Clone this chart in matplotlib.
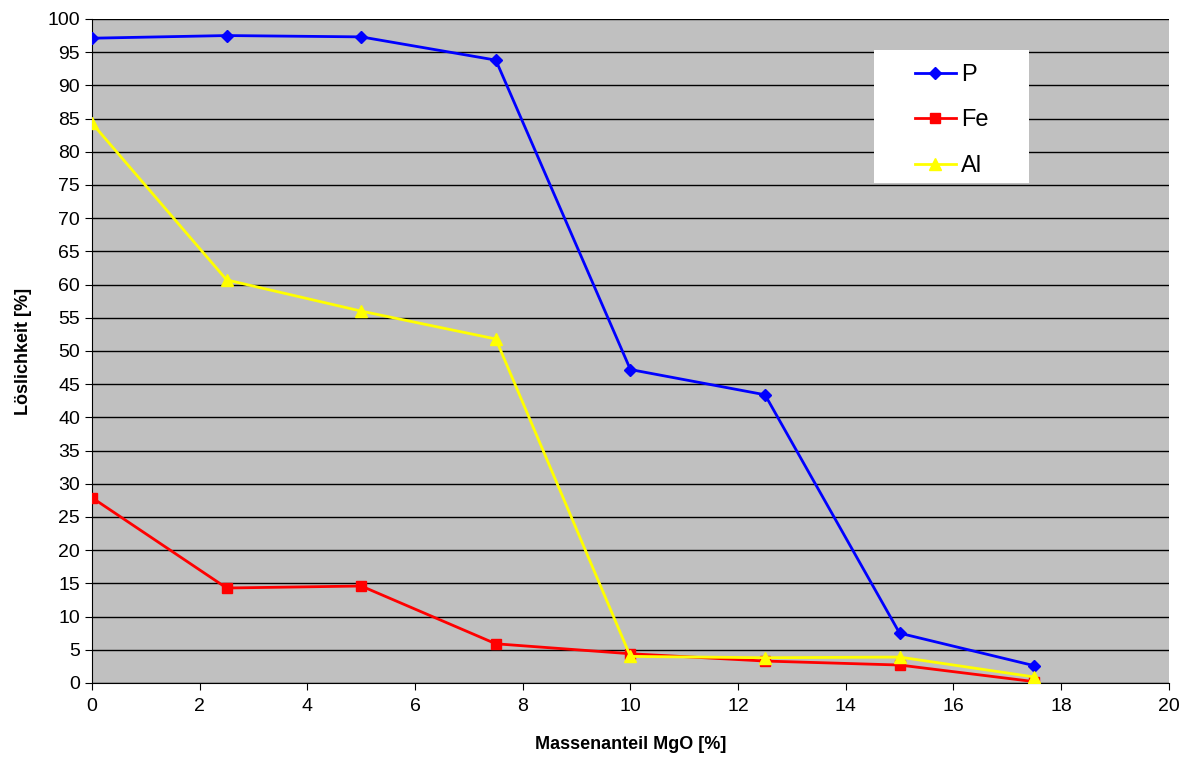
import matplotlib.pyplot as plt
from matplotlib.patches import Rectangle

plt.rcParams['font.family'] = ['Liberation Sans', 'DejaVu Sans']

mgo = [0, 2.5, 5, 7.5, 10, 12.5, 15, 17.5]
p_vals = [97.1, 97.5, 97.3, 93.8, 47.2, 43.4, 7.5, 2.6]
fe_vals = [27.9, 14.3, 14.6, 5.9, 4.4, 3.3, 2.7, 0.2]
al_vals = [84.3, 60.7, 56.0, 51.8, 4.0, 3.8, 3.9, 0.9]

fig = plt.figure(figsize=(11.89, 7.58), dpi=100)
ax = fig.add_axes([0.0774, 0.099, 0.9056, 0.876])
ax.set_facecolor('#C0C0C0')

ax.plot(mgo, p_vals, color='#0000FF', lw=2, marker='D', ms=6, label='P', zorder=3)
ax.plot(mgo, fe_vals, color='#FF0000', lw=2, marker='s', ms=7, label='Fe', zorder=3)
ax.plot(mgo, al_vals, color='#FFFF00', lw=2, marker='^', ms=8, label='Al', zorder=3)

ax.set_xlim(0, 20)
ax.set_ylim(0, 100)
ax.set_xticks(range(0, 21, 2))
ax.set_yticks(range(0, 101, 5))
ax.yaxis.grid(True, color='black', lw=1)
ax.set_axisbelow(True)
for s in ['top', 'right']:
    ax.spines[s].set_visible(False)
ax.tick_params(labelsize=14, length=5, direction='out')
ax.tick_params(axis='x', pad=6)

ax.set_xlabel('Massenanteil MgO [%]', fontsize=13, fontweight='bold', labelpad=15)
ax.set_ylabel('Löslichkeit [%]', fontsize=13, fontweight='bold', labelpad=11)

# white legend box
ax.add_patch(Rectangle((0.726, 0.753), 0.144, 0.200, transform=ax.transAxes,
                       facecolor='white', edgecolor='none', zorder=4))
leg = ax.legend(loc='upper left', bbox_to_anchor=(0.764, 0.932), frameon=False,
                borderpad=0, borderaxespad=0,
                fontsize=17, labelspacing=0.99, handlelength=1.75, handletextpad=0.2)
leg.set_zorder(5)

fig.savefig('out.png', dpi=100)
